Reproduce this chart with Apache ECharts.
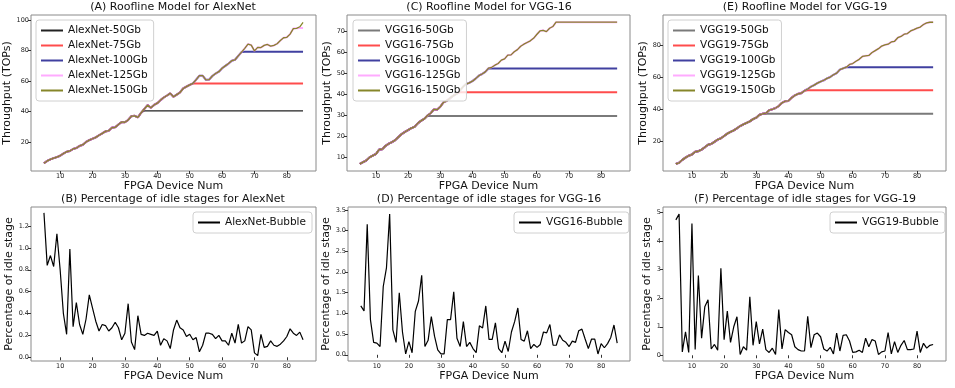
<!DOCTYPE html>
<html style="height: 100%">
<head>
    <meta charset="utf-8">
    <script src="https://cdn.jsdelivr.net/npm/echarts@6/dist/echarts.min.js"></script>
</head>
<body style="height: 100%; margin: 0; background: #fff">
    <div id="main" style="width: 955px; height: 388px"></div>
    <script type="text/javascript">
        // FPGA device counts (x axis, shared by all panels)
        var devices = [5,6,7,8,9,10,11,12,13,14,15,16,17,18,19,20,21,22,23,24,25,26,27,28,29,30,
            31,32,33,34,35,36,37,38,39,40,41,42,43,44,45,46,47,48,49,50,51,52,53,54,55,56,57,58,59,60,
            61,62,63,64,65,66,67,68,69,70,71,72,73,74,75,76,77,78,79,80,81,82,83,84,85];

        // uncapped throughput (150Gb curve) for each model, TOPs
        var alexThroughput = [6.3,7.8,8.8,9.6,10.3,11.2,12.6,13.8,14.3,15.6,16.2,17.6,18.4,20.2,21.4,22.3,
            23.2,24.6,25.8,27.1,27.6,29.6,29.8,31.6,33.3,33.1,34.6,37.1,37.3,36.3,39.3,41.8,44.3,42.6,44.4,45.6,
            47.6,49.3,50.6,52.0,49.8,51.2,52.6,55.2,56.4,57.6,58.6,61.0,63.6,63.6,60.9,61.0,63.4,65.0,66.2,68.4,
            70.0,71.5,73.4,74.0,76.5,79.0,81.5,84.3,83.6,79.8,82.1,82.0,83.4,84.0,82.9,83.4,84.5,86.6,88.4,88.7,
            90.8,94.4,94.6,95.6,98.5];
        var vgg16Throughput = [7.0,7.8,8.6,10.1,10.9,11.7,13.8,14.0,15.6,16.6,17.4,18.3,19.8,21.2,22.2,23.1,
            24.0,24.6,26.3,27.5,28.4,30.0,31.1,32.9,32.8,34.2,36.3,37.0,38.2,39.4,40.3,41.7,43.6,45.0,45.6,46.4,
            47.6,49.0,49.8,50.8,52.6,53.0,54.0,54.8,56.4,57.0,58.8,58.9,60.4,61.4,63.0,64.0,64.8,65.6,66.8,68.6,
            70.3,70.6,70.0,71.6,72.4,74.5,74.5,74.5,74.5,74.5,74.5,74.5,74.5,74.5,74.5,74.5,74.5,74.5,74.5,74.5,
            74.5,74.5,74.5,74.5,74.5];
        var vgg19Throughput = [6.1,6.8,8.6,10.0,11.2,11.9,13.6,14.0,15.0,16.4,18.0,18.5,19.8,21.2,22.0,23.4,
            24.9,26.0,26.9,28.2,29.6,30.6,31.6,32.5,33.9,34.8,36.6,37.2,37.6,39.4,40.0,40.8,42.0,44.0,45.0,45.2,
            47.2,48.6,49.6,50.0,51.5,52.6,54.0,55.0,56.2,57.2,58.0,59.2,60.0,61.4,62.4,64.6,65.4,66.1,67.8,68.4,
            69.8,71.0,72.8,73.2,73.4,75.2,76.4,77.6,79.2,80.0,80.4,81.8,82.2,84.4,85.2,86.6,87.0,88.6,89.4,90.3,
            91.0,92.6,93.6,94.0,94.0];

        // bandwidth roofs: 50, 75, 100, 125 Gb (TOPs)
        var alexRoofs = [40.5, 58.4, 79.3, 94.8];
        var vgg16Roofs = [29.8, 41.1, 52.4, 74.5];
        var vgg19Roofs = [37.2, 51.8, 66.1, 94.0];
        var bandwidths = ['50Gb', '75Gb', '100Gb', '125Gb', '150Gb'];

        // percentage of idle (bubble) stages
        var alexBubble = [1.32,0.84,0.93,0.83,1.13,0.8,0.4,0.21,0.99,0.28,0.5,0.3,0.21,0.35,0.57,0.45,0.33,
            0.24,0.3,0.29,0.24,0.27,0.32,0.27,0.16,0.22,0.49,0.14,0.07,0.38,0.21,0.2,0.22,0.21,0.2,0.24,0.11,
            0.17,0.15,0.08,0.25,0.34,0.27,0.25,0.19,0.21,0.16,0.18,0.05,0.11,0.22,0.22,0.21,0.17,0.2,0.15,
            0.15,0.11,0.22,0.13,0.3,0.13,0.15,0.28,0.25,0.04,0.015,0.21,0.09,0.1,0.15,0.11,0.1,0.12,0.15,0.19,
            0.26,0.22,0.2,0.23,0.16];
        var vgg16Bubble = [1.18,1.06,3.15,0.85,0.3,0.28,0.2,1.65,2.1,3.4,0.6,0.3,1.5,0.55,0.02,0.32,0.05,
            1.05,1.3,1.92,0.2,0.35,0.92,0.45,0.12,0.02,0.02,0.85,0.85,1.52,0.4,0.2,0.8,0.2,0.3,0.15,0.05,0.7,
            0.65,1.18,0.37,0.37,0.77,0.15,0.05,0.33,0.08,0.55,0.8,1.13,0.37,0.33,0.58,0.15,0.25,0.18,0.25,0.55,
            0.53,0.73,0.23,0.23,0.48,0.35,0.3,0.2,0.33,0.3,0.58,0.62,0.38,0.15,0.38,0.38,0.02,0.27,0.17,0.27,
            0.42,0.72,0.28];
        var vgg19Bubble = [4.75,4.95,0.12,0.82,0.1,4.62,0.2,2.8,0.6,1.7,1.95,0.22,0.38,0.18,3.05,0.55,1.55,
            0.45,1.0,1.35,0.03,0.3,0.18,2.05,0.35,1.18,0.4,0.92,0.2,0.1,0.25,0.03,1.6,0.22,0.9,0.8,0.72,0.3,
            0.2,0.15,0.15,1.37,0.27,0.72,0.78,0.65,0.22,0.15,0.28,0.05,0.78,0.15,0.7,0.72,0.5,0.1,0.12,0.18,
            0.1,0.6,0.3,0.55,0.5,0.03,0.12,0.15,0.8,0.05,0.48,0.1,0.35,0.52,0.2,0.2,0.22,0.85,0.1,0.42,0.25,
            0.35,0.38];

        var xTicks = [10, 20, 30, 40, 50, 60, 70, 80];
        var alexTicks = [20, 40, 60, 80, 100];
        var vgg16Ticks = [10, 20, 30, 40, 50, 60, 70];
        var vgg19Ticks = [20, 40, 60, 80];
        var alexBubbleTicks = [0, 0.2, 0.4, 0.6, 0.8, 1.0, 1.2];
        var vgg16BubbleTicks = [0, 0.5, 1.0, 1.5, 2.0, 2.5, 3.0, 3.5];
        var vgg19BubbleTicks = [0, 1, 2, 3, 4, 5];

        var roofColors = ['#222222', 'rgba(255,0,0,0.7)', 'rgba(0,0,128,0.75)', 'rgba(255,150,255,0.8)', '#86862a'];
        var roofWidths = [1.2, 2, 2, 2, 1.3];

        var FONT = 'DejaVu Sans';
        var myChart = echarts.init(document.getElementById('main'));

        var grids = [
            {left: 31, top: 15, width: 285, height: 156},
            {left: 347, top: 15, width: 283, height: 156},
            {left: 663, top: 15, width: 283, height: 156},
            {left: 31, top: 207, width: 285, height: 154},
            {left: 348, top: 207, width: 282, height: 154},
            {left: 663, top: 207, width: 283, height: 154}
        ];
        grids.forEach(function (g) {
            g.show = true; g.borderColor = '#8a8a8a'; g.borderWidth = 1; g.containLabel = false;
        });

        function xAxisFor(i) {
            return {
                type: 'value', gridIndex: i, min: 1, max: 89,
                name: 'FPGA Device Num', nameLocation: 'middle', nameGap: 9,
                nameTextStyle: {fontFamily: FONT, fontSize: 11, color: '#111'},
                axisLine: {show: false},
                splitLine: {show: false},
                axisTick: {show: true, length: 3, customValues: xTicks, lineStyle: {color: '#333'}},
                axisLabel: {customValues: xTicks, fontFamily: FONT, fontSize: 6.5, color: '#222', margin: 2}
            };
        }
        function yAxisFor(i, name, min, max, ticks, digits, gap) {
            return {
                type: 'value', gridIndex: i, min: min, max: max,
                name: name, nameLocation: 'middle', nameGap: gap,
                nameTextStyle: {fontFamily: FONT, fontSize: 11, color: '#111'},
                axisLine: {show: false},
                splitLine: {show: false},
                axisTick: {show: true, length: 3, customValues: ticks, lineStyle: {color: '#333'}},
                axisLabel: {
                    customValues: ticks, fontFamily: FONT, fontSize: 6.5, color: '#222', margin: 2,
                    formatter: function (v) { return v.toFixed(digits); }
                }
            };
        }

        function pairs(ys) {
            return devices.map(function (d, k) { return [d, ys[k]]; });
        }

        var series = [];
        var legends = [];
        function roofPanel(idx, prefix, base, roofs) {
            var names = [];
            bandwidths.forEach(function (bw, j) {
                var cap = j < roofs.length ? roofs[j] : Infinity;
                var ys = base.map(function (v) { return Math.min(v, cap); });
                var name = prefix + '-' + bw;
                names.push(name);
                var col = roofColors[j];
                if (j === 0 && idx > 0) col = '#7a7a7a';
                series.push({
                    type: 'line', name: name, xAxisIndex: idx, yAxisIndex: idx,
                    data: pairs(ys), showSymbol: false, symbol: 'none', color: col,
                    lineStyle: {color: col, width: (j === 0 && idx > 0) ? 2 : roofWidths[j]}
                });
            });
            return names;
        }

        var nA = roofPanel(0, 'AlexNet', alexThroughput, alexRoofs);
        var nC = roofPanel(1, 'VGG16', vgg16Throughput, vgg16Roofs);
        var nE = roofPanel(2, 'VGG19', vgg19Throughput, vgg19Roofs);

        [['AlexNet-Bubble', alexBubble, 3], ['VGG16-Bubble', vgg16Bubble, 4], ['VGG19-Bubble', vgg19Bubble, 5]]
            .forEach(function (b) {
                series.push({
                    type: 'line', name: b[0], xAxisIndex: b[2], yAxisIndex: b[2],
                    data: pairs(b[1]), showSymbol: false, symbol: 'none', color: '#000',
                    lineStyle: {color: '#000', width: 1.2}
                });
            });

        function legendBox(names, left, top, orient) {
            return {
                data: names, left: left, top: top, orient: orient,
                icon: 'rect', itemWidth: 22, itemHeight: 2, itemGap: 2,
                padding: [4, 6, 4, 5],
                borderColor: '#d0d0d0', borderWidth: 1, borderRadius: 3,
                backgroundColor: 'rgba(255,255,255,0.8)',
                textStyle: {fontFamily: FONT, fontSize: 10.5, color: '#111', lineHeight: 13}
            };
        }
        legends.push(legendBox(nA, 36, 20, 'vertical'));
        legends.push(legendBox(nC, 353, 20, 'vertical'));
        legends.push(legendBox(nE, 668, 20, 'vertical'));
        legends.push(legendBox(['AlexNet-Bubble'], 193, 212, 'horizontal'));
        legends.push(legendBox(['VGG16-Bubble'], 514, 212, 'horizontal'));
        legends.push(legendBox(['VGG19-Bubble'], 830, 212, 'horizontal'));

        function titleAt(text, cx, top) {
            return {
                text: text, left: cx, top: top, textAlign: 'center', padding: 0,
                textStyle: {fontFamily: FONT, fontSize: 11, fontWeight: 'normal', color: '#111'}
            };
        }

        var option = {
            animation: false,
            backgroundColor: '#fff',
            title: [
                titleAt('(A) Roofline Model for AlexNet', 173, 2),
                titleAt('(C) Roofline Model for VGG-16', 489, 2),
                titleAt('(E) Roofline Model for VGG-19', 805, 2),
                titleAt('(B) Percentage of idle stages for AlexNet', 173, 194),
                titleAt('(D) Percentage of idle stages for VGG-16', 489, 194),
                titleAt('(F) Percentage of idle stages for VGG-19', 805, 194)
            ],
            legend: legends,
            grid: grids,
            xAxis: [0, 1, 2, 3, 4, 5].map(xAxisFor),
            yAxis: [
                yAxisFor(0, 'Throughput (TOPs)', 1.2, 103.3, alexTicks, 0, 16),
                yAxisFor(1, 'Throughput (TOPs)', 3.6, 77.9, vgg16Ticks, 0, 13),
                yAxisFor(2, 'Throughput (TOPs)', 1.7, 98.5, vgg19Ticks, 0, 11),
                yAxisFor(3, 'Percentage of idle stage', -0.034, 1.374, alexBubbleTicks, 1, 13),
                yAxisFor(4, 'Percentage of idle stage', -0.15, 3.57, vgg16BubbleTicks, 1, 14),
                yAxisFor(5, 'Percentage of idle stage', -0.2, 5.2, vgg19BubbleTicks, 0, 9)
            ],
            series: series
        };

        myChart.setOption(option);
    </script>
</body>
</html>
